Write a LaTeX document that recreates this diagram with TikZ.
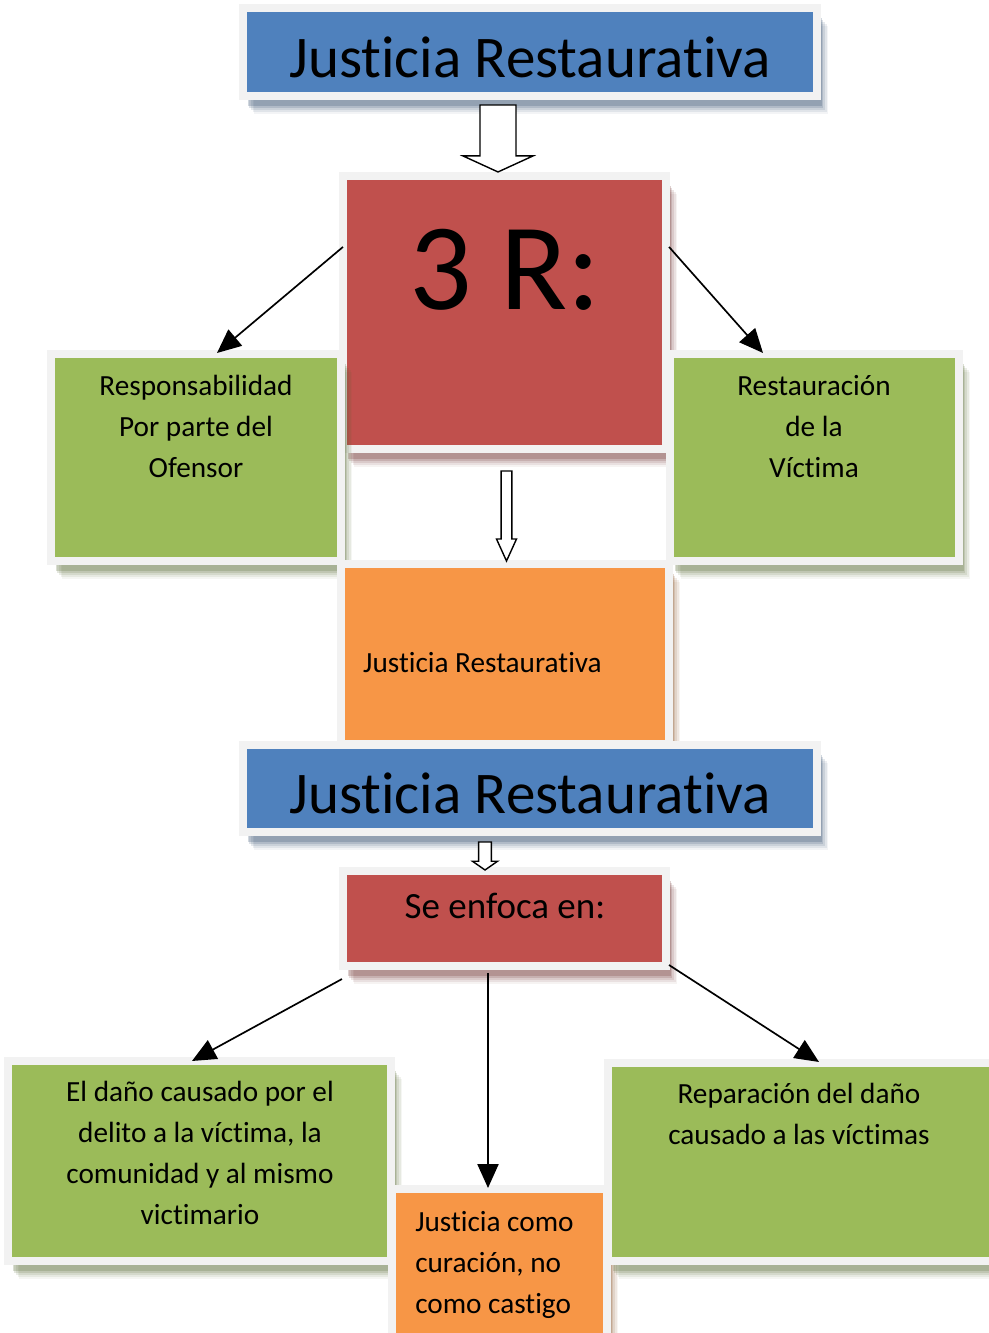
\documentclass[tikz,border=0pt]{standalone}
\usepackage{fontspec}
\setmainfont{Carlito}[Ligatures=CommonOff]
\usepackage{tikz}
\usetikzlibrary{shadows,arrows.meta,calc}
\definecolor{azul}{HTML}{4F81BD}
\definecolor{rojo}{HTML}{C0504D}
\definecolor{verde}{HTML}{9BBB59}
\definecolor{naranja}{HTML}{F79646}
\definecolor{marco}{HTML}{F2F2F2}
\tikzset{sombra/.style={
    drop shadow={shadow xshift=0.28cm, shadow yshift=-0.44cm, fill=#1!55!black, opacity=.06},
    drop shadow={shadow xshift=0.24cm, shadow yshift=-0.39cm, fill=#1!55!black, opacity=.09},
    drop shadow={shadow xshift=0.20cm, shadow yshift=-0.34cm, fill=#1!55!black, opacity=.12},
    drop shadow={shadow xshift=0.16cm, shadow yshift=-0.29cm, fill=#1!55!black, opacity=.16},
    drop shadow={shadow xshift=0.12cm, shadow yshift=-0.24cm, fill=#1!55!black, opacity=.22}}}
\tikzstyle{caja} = [draw=marco, line width=0.2cm, inner sep=0pt]
\tikzstyle{azulbox} = [caja, fill=azul, sombra=azul]
\tikzstyle{rojobox} = [caja, fill=rojo, sombra=rojo]
\tikzstyle{verdebox} = [caja, fill=verde, sombra=verde]
\tikzstyle{naranjabox} = [caja, fill=naranja, sombra=naranja]
\tikzstyle{titulo} = [font=\fontsize{42}{50}\selectfont, text height=35.6pt, text depth=0pt]
\tikzstyle{texto} = [font=\fontsize{20.8}{29.2}\selectfont, align=center, inner sep=0pt]
\tikzstyle{linea} = [line width=1.2pt, -{Triangle[length=17pt,width=15pt]}]
\tikzstyle{hueca} = [draw=black, fill=white, line width=1pt, line join=miter]
% flecha hueca: origen, punta, medio cuerpo, media punta, largo punta
\newcommand{\huecaflecha}[5]{%
  \draw[hueca] let \p1=(#1), \p2=(#2) in
    (\x1-#3,\y1) -- (\x1-#3,\y2+#5) -- (\x1-#4,\y2+#5) -- (\x1,\y2)
    -- (\x1+#4,\y2+#5) -- (\x1+#3,\y2+#5) -- (\x1+#3,\y1) -- cycle;}

\begin{document}
\begin{tikzpicture}[x=0.025cm, y=-0.025cm]
    \useasboundingbox (0,0) rectangle (988,1333);
    \node[azulbox,titulo, minimum width=14.35cm, minimum height=2.2cm](azul1) at (530,52){Justicia Restaurativa};
    \node[rojobox, minimum width=8.075cm, minimum height=6.825cm](tresR) at (504.5,312.5){};
    \node[font=\fontsize{88}{100}\selectfont, anchor=base](tresRtxt) at ([shift={(0.5,137.5)}]tresR.north){3 R:};
    \node[verdebox, minimum width=7.25cm, minimum height=5.175cm](resp) at (196,457.5){};
    \node[texto, anchor=north](resptxt) at ([shift={(0,25)}]resp.north){Responsabilidad\\Por parte del\\Ofensor};
    \node[verdebox, minimum width=7.225cm, minimum height=5.175cm](restv) at (814.5,457.5){};
    \node[texto, anchor=north](restvtxt) at ([shift={(-0.5,25)}]restv.north){Restauración\\de la\\Víctima};
    \node[naranjabox, minimum width=8.2cm, minimum height=4.5cm](naranja1) at (505,654){};
    \node[texto, anchor=base west](naranja1txt) at ([shift={(26,18)}]naranja1.west){Justicia Restaurativa};
    \node[azulbox,titulo, minimum width=14.35cm, minimum height=2.175cm](azul2) at (530,788.5){Justicia Restaurativa};
    \node[rojobox, minimum width=8.075cm, minimum height=2.375cm](enfoca) at (504.5,918.5){};
    \node[font=\fontsize{26.3}{32}\selectfont, anchor=base](enfocatxt) at ([shift={(0.5,52)}]enfoca.north){Se enfoca en:};
    \node[verdebox, minimum width=9.575cm, minimum height=5cm](dano) at (199.5,1161){};
    \node[texto, anchor=north](danotxt) at ([shift={(0.5,24)}]dano.north){El daño causado por el\\delito a la víctima, la\\comunidad y al mismo\\victimario};
    \node[naranjabox, minimum width=5.375cm, minimum height=3.8cm](curacion) at (499.5,1265){};
    \node[texto, align=left, anchor=north west](curaciontxt) at ([shift={(27,26)}]curacion.north west){Justicia como\\curación, no\\como castigo};
    \node[verdebox, minimum width=9.7cm, minimum height=4.95cm](repar) at (802,1162){};
    \node[texto, anchor=north](repartxt) at ([shift={(-3,24)}]repar.north){Reparación del daño\\causado a las víctimas};
    \huecaflecha{[shift={(-32,5)}]azul1.south}{[shift={(-6.5,0)}]tresR.north}{12.8pt}{24.9pt}{11.4pt}
    \huecaflecha{[shift={(2,18)}]tresR.south}{[shift={(1.5,1)}]naranja1.north}{3.8pt}{7.1pt}{15.6pt}
    \huecaflecha{[shift={(-45,6)}]azul2.south}{[shift={(-19.5,3)}]enfoca.north}{4.5pt}{8.9pt}{6.2pt}
    \draw[linea]([shift={(4,75)}]tresR.north west)--([shift={(21,3)}]resp.north);
    \draw[linea]([shift={(-1,75)}]tresR.north east)--([shift={(-51.5,3)}]restv.north);
    \draw[linea]([shift={(3,9)}]enfoca.south west)--([shift={(-7.5,4)}]dano.north);
    \draw[linea]([shift={(-16.5,3)}]enfoca.south)--([shift={(-11.5,3)}]curacion.north);
    \draw[linea]([shift={(-1,-5)}]enfoca.south east)--([shift={(17,3)}]repar.north);
\end{tikzpicture}
\end{document}
